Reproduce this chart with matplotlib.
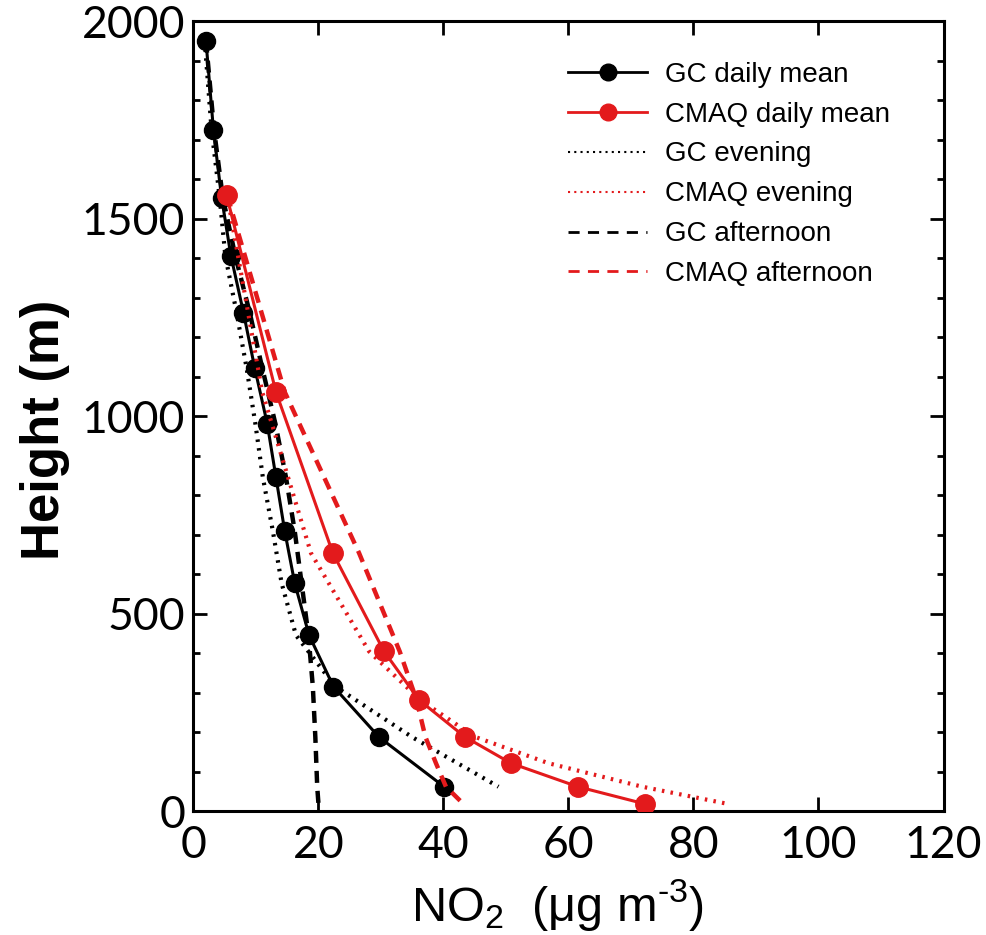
import matplotlib
matplotlib.use("Agg")
import matplotlib.pyplot as plt
from matplotlib.lines import Line2D
from matplotlib.ticker import MultipleLocator

plt.rcParams['font.family'] = ['Liberation Sans', 'DejaVu Sans']
plt.rcParams['mathtext.fontset'] = 'custom'
plt.rcParams['mathtext.rm'] = 'Liberation Sans'
plt.rcParams['mathtext.it'] = 'Liberation Sans:italic'
plt.rcParams['mathtext.bf'] = 'Liberation Sans:bold'

# ---- data ----
gc_height = [1950, 1724, 1553, 1405, 1262, 1122, 981, 845, 709, 577, 445, 315, 187, 61.5]
gc_daily = [2.0, 3.2, 4.5, 6.0, 8.0, 9.8, 11.8, 13.2, 14.6, 16.2, 18.5, 22.4, 29.7, 40.1]
gc_evening = [1.8, 2.9, 4.2, 5.1, 6.9, 8.5, 9.9, 11.1, 12.7, 14.1, 16.4, 22.7, 35.0, 48.8]
gc_aft_height = [1950, 1724, 1553, 1405, 1262, 1122, 981, 845, 709, 577, 445, 315, 187, 61.5, 18]
gc_afternoon = [2.0, 3.3, 4.7, 6.7, 9.0, 11.0, 13.1, 14.8, 16.2, 17.3, 18.4, 19.1, 19.5, 19.8, 20.0]

cmaq_height = [1559, 1061, 653, 404, 281, 188, 121, 61.5, 17.7]
cmaq_daily = [5.3, 13.2, 22.3, 30.5, 36.1, 43.4, 50.8, 61.5, 72.3]
cmaq_evening = [5.4, 11.0, 18.8, 28.1, 36.3, 45.0, 56.8, 71.8, 85.6]
cmaq_afternoon = [5.4, 14.6, 26.5, 33.0, 35.7, 37.1, 38.8, 40.4, 43.2]

labels = ["GC daily mean", "CMAQ daily mean", "GC evening", "CMAQ evening",
          "GC afternoon", "CMAQ afternoon"]
xticks = [0, 20, 40, 60, 80, 100, 120]
yticks = [0, 500, 1000, 1500, 2000]

RED = '#e31a1c'
BLACK = 'black'

fig = plt.figure(figsize=(9.86, 9.35), dpi=100)
ax = fig.add_axes([0.1962, 0.1326, 0.7607, 0.8449])

dot = (0, (0.6, 1.5))
dash = (0, (2.7, 1.8))

ax.plot(gc_daily, gc_height, color=BLACK, lw=2.2, marker='o', ms=13, zorder=3)
ax.plot(gc_evening, gc_height, color=BLACK, lw=3.0, linestyle=dot, zorder=3)
ax.plot(gc_afternoon, gc_aft_height, color=BLACK, lw=3.2, linestyle=dash, zorder=3)
ax.plot(cmaq_daily, cmaq_height, color=RED, lw=2.2, marker='o', ms=14, zorder=4)
ax.plot(cmaq_evening, cmaq_height, color=RED, lw=3.0, linestyle=dot, zorder=4)
ax.plot(cmaq_afternoon, cmaq_height, color=RED, lw=3.2, linestyle=dash, zorder=4)

ax.set_xlim(0, 120)
ax.set_ylim(0, 2000)
ax.set_xticks(xticks)
ax.set_yticks(yticks)
ax.yaxis.set_minor_locator(MultipleLocator(100))
ax.tick_params(which='both', direction='in', top=True, right=True, width=2.0,
               labelsize=32, pad=10)
ax.tick_params(which='major', length=10)
ax.tick_params(which='minor', length=5)
ax.tick_params(axis='y', pad=6)
for lab in ax.get_xticklabels() + ax.get_yticklabels():
    lab.set_family(['Lato', 'Liberation Sans'])
    lab.set_fontweight('normal')
for s in ax.spines.values():
    s.set_linewidth(2.2)

ax.set_ylabel("Height (m)", fontsize=38, fontweight='bold')
ax.yaxis.set_label_coords(-0.165, 0.483)
ax.set_xlabel("NO$_\\mathregular{2}$  (μg m$^{\\text{-3}}$)", fontsize=35)
ax.xaxis.set_label_coords(0.485, -0.083)

# legend proxies
handles = [
    Line2D([], [], color=BLACK, lw=2.0, marker='o', ms=12),
    Line2D([], [], color=RED, lw=2.0, marker='o', ms=12),
    Line2D([], [], color=BLACK, lw=1.5, linestyle=(0, (1, 2))),
    Line2D([], [], color=RED, lw=1.5, linestyle=(0, (1, 2))),
    Line2D([], [], color=BLACK, lw=2.0, linestyle=(0, (4, 3))),
    Line2D([], [], color=RED, lw=2.0, linestyle=(0, (4, 3))),
]
fig.legend(handles, labels, loc='upper left', bbox_to_anchor=(0.576, 0.934),
           frameon=False, fontsize=20, handlelength=2.85, handletextpad=0.65,
           labelspacing=0.5, borderpad=0, borderaxespad=0)

fig.savefig("out.png", dpi=100)
